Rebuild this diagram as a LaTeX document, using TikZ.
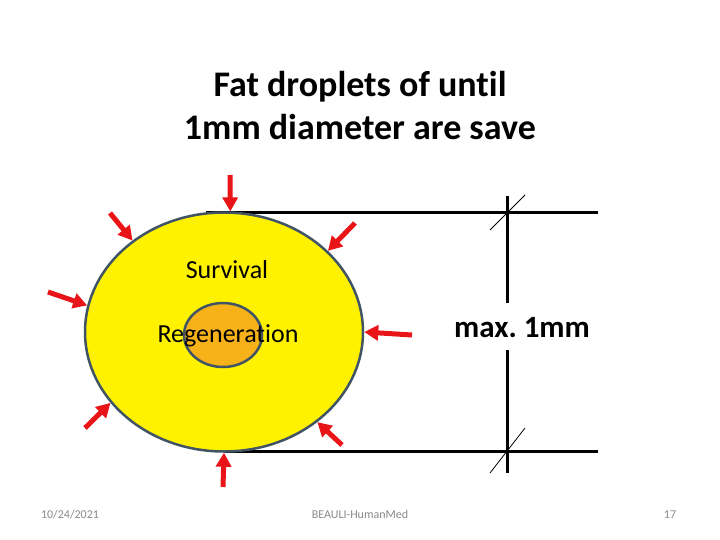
\documentclass[tikz,border=0pt]{standalone}
\usepackage{fontspec}
\setmainfont{Carlito}[Ligatures={NoCommon,NoRequired,NoContextual}]
\usetikzlibrary{shapes.geometric,arrows.meta}
\definecolor{dropred}{RGB}{232,20,24}
\definecolor{droprim}{RGB}{64,84,100}
\definecolor{coreorange}{RGB}{247,178,26}
\definecolor{footgray}{RGB}{137,137,137}
\tikzset{
  press/.style={draw=dropred, line width=5pt, -{Triangle[width=15pt,length=14pt]}},
  dimline/.style={line width=3pt},
  tick/.style={line width=0.8pt},
  foot/.style={font=\fontsize{12}{14}\selectfont, text=footgray, anchor=base}
}
\begin{document}
\begin{tikzpicture}[x=1pt, y=-1pt]
\useasboundingbox (0,0) rectangle (720,540);

\node[align=center, font=\fontsize{36}{43}\selectfont\bfseries] (title) at (360,106) {Fat droplets of until\\1mm diameter are save};

% reference lines and dimension
\coordinate (topL) at (206,213);
\coordinate (topR) at (598,213);
\coordinate (botL) at (225,451);
\coordinate (botR) at (598,451);
\draw[dimline] (topL) -- (topR);
\draw[dimline] (botL) -- (botR);

\node[ellipse, draw=droprim, line width=2.5pt, fill=yellow, minimum width=278pt, minimum height=239pt, inner sep=0pt] (drop) at (224,332) {};
\node[ellipse, draw=droprim, line width=2.5pt, fill=coreorange, minimum width=78pt, minimum height=64pt, inner sep=0pt] (core) at (223,335) {};
\node[font=\fontsize{26}{30}\selectfont] (surv) at (227,270) {Survival};
\node[font=\fontsize{26}{30}\selectfont] (regen) at (228,336) {Regeneration};

\node[font=\fontsize{31}{36}\selectfont\bfseries] (maxlbl) at (522,328) {max.\ 1mm};
\coordinate (dimA) at (507,196);
\coordinate (dimB) at (507,303);
\coordinate (dimC) at (507,350);
\coordinate (dimD) at (507,473);
\draw[dimline] (dimA) -- (dimB);
\draw[dimline] (dimC) -- (dimD);
\draw[tick] (490,230) -- (525,195);
\draw[tick] (490,473) -- (525,428);

% pressure arrows
\coordinate (p1) at (230,175);
\coordinate (p2) at (110,213);
\coordinate (p3) at (355,223);
\coordinate (p4) at (48,292);
\coordinate (p5) at (412,335);
\coordinate (p6) at (85,428);
\coordinate (p7) at (342,445);
\coordinate (p8) at (223,487);
\foreach \t/\a in {p1/87, p2/135, p3/38, p4/169, p5/0, p6/212, p7/316, p8/270}
  \draw[press] (\t) -- (drop.\a);

\node[foot] (date) at (70,518) {10/24/2021};
\node[foot] (org) at (360,518) {BEAULI-HumanMed};
\node[foot] (page) at (670,518) {17};
\end{tikzpicture}
\end{document}
